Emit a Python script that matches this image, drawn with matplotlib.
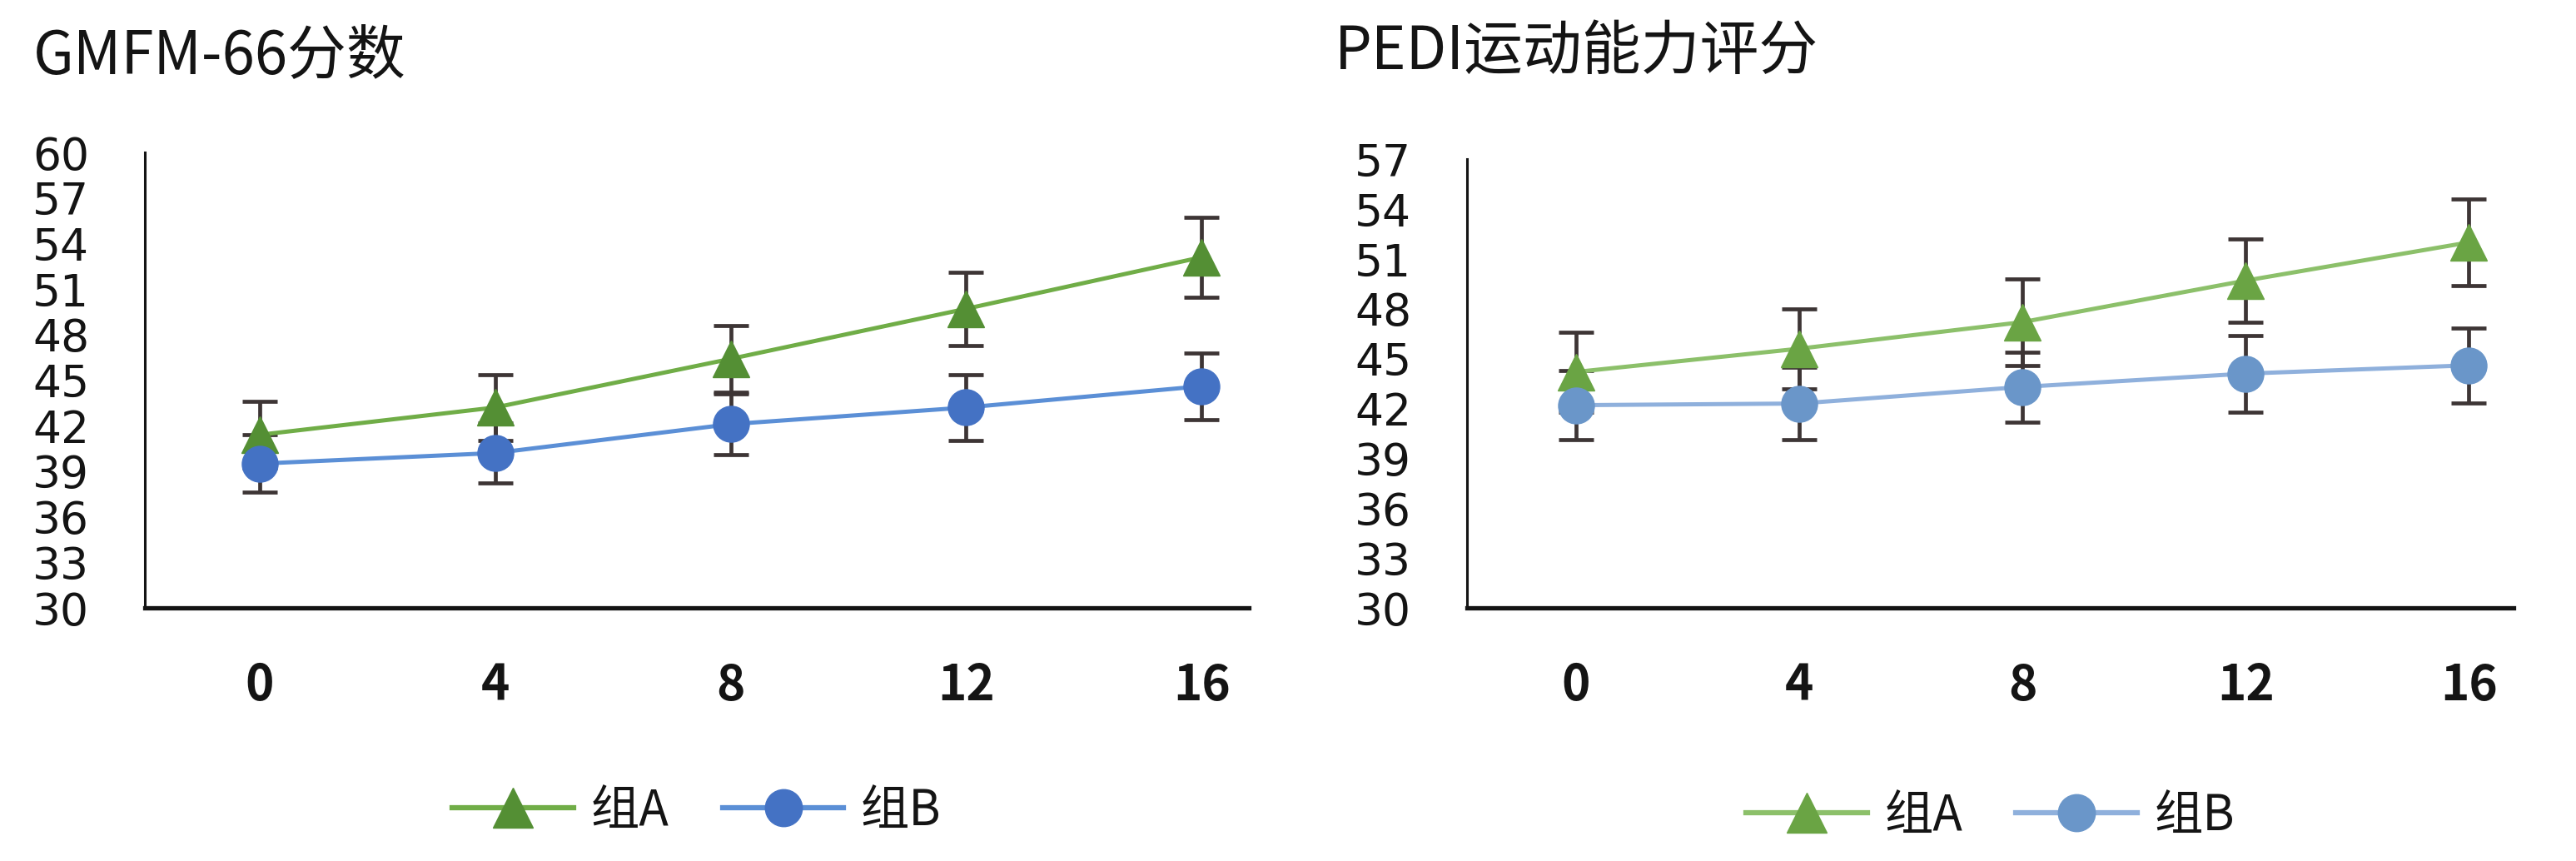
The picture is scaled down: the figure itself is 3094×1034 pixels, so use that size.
import matplotlib
matplotlib.use("Agg")
import matplotlib.pyplot as plt
from matplotlib.lines import Line2D

plt.rcParams['font.family'] = ['Noto Sans CJK SC', 'DejaVu Sans']

weeks = [0, 4, 8, 12, 16]
series_names = ["组A", "组B"]

gmfm_title = "GMFM-66分数"
gmfm_a = [41.4, 43.2, 46.4, 49.7, 53.1]
gmfm_a_err = [2.2, 2.15, 2.2, 2.4, 2.65]
gmfm_b = [39.5, 40.2, 42.1, 43.2, 44.6]
gmfm_b_err = [1.9, 2.0, 2.0, 2.15, 2.2]
gmfm_yticks = [30, 33, 36, 39, 42, 45, 48, 51, 54, 57, 60]

pedi_title = "PEDI运动能力评分"
pedi_a = [44.2, 45.6, 47.2, 49.7, 52.0]
pedi_a_err = [2.4, 2.4, 2.6, 2.5, 2.6]
pedi_b = [42.2, 42.3, 43.3, 44.1, 44.6]
pedi_b_err = [2.1, 2.2, 2.1, 2.3, 2.25]
pedi_yticks = [30, 33, 36, 39, 42, 45, 48, 51, 54, 57]

fig = plt.figure(figsize=(30.94, 10.34), dpi=100)

err_color = '#3d3535'
txt_color = '#141414'

def panel(rect, a, a_err, b, b_err, yticks, a_colors, b_colors, title, title_xy, leg_y):
    ax = fig.add_axes(rect)
    ax.errorbar(weeks, a, yerr=a_err, fmt='none', ecolor=err_color,
                elinewidth=3.4, capsize=15, capthick=3.4, zorder=2)
    ax.errorbar(weeks, b, yerr=b_err, fmt='none', ecolor=err_color,
                elinewidth=3.4, capsize=15, capthick=3.4, zorder=2)
    ax.plot(weeks, a, color=a_colors[0], lw=3.6, marker='^', ms=32,
            mfc=a_colors[1], mec=a_colors[1], zorder=3)
    ax.plot(weeks, b, color=b_colors[0], lw=3.6, marker='o', ms=31,
            mfc=b_colors[1], mec=b_colors[1], zorder=3)
    ax.set_xlim(-1.95, 16.8)
    ax.set_ylim(yticks[0], yticks[-1])
    ax.set_yticks(yticks)
    ax.set_yticklabels([str(t) for t in yticks], fontsize=38.5, color=txt_color,
                       family='DejaVu Sans')
    ax.set_xticks(weeks)
    ax.set_xticklabels([str(w) for w in weeks], fontsize=42, fontweight='bold', color=txt_color)
    ax.tick_params(axis='y', length=0, pad=48)
    ax.tick_params(axis='x', length=0, pad=46)
    for s in ['top', 'right']:
        ax.spines[s].set_visible(False)
    ax.spines['left'].set_linewidth(2.2)
    ax.spines['bottom'].set_linewidth(3.8)
    ax.spines['left'].set_color(txt_color)
    ax.spines['bottom'].set_color(txt_color)
    fig.text(title_xy[0], title_xy[1], title, fontsize=51, va='center', ha='left',
             color=txt_color, fontweight='medium')
    handles = [Line2D([], [], color=a_colors[0], lw=4.5, marker='^', ms=34, mfc=a_colors[1], mec=a_colors[1]),
               Line2D([], [], color=b_colors[0], lw=4.5, marker='o', ms=32, mfc=b_colors[1], mec=b_colors[1])]
    cx = rect[0] + rect[2] / 2
    leg = fig.legend(handles, series_names, loc='center', bbox_to_anchor=(cx, leg_y), ncol=2,
                     frameon=False, handlelength=2.5, handletextpad=0.35,
                     columnspacing=1.1, prop={'size': 42, 'weight': 'medium'})
    for t in leg.get_texts():
        t.set_color(txt_color)
    return ax

panel([0.0562, 0.294, 0.4286, 0.529], gmfm_a, gmfm_a_err, gmfm_b, gmfm_b_err, gmfm_yticks,
      ('#70ad47', '#548f34'), ('#5b8fd6', '#4472c4'), gmfm_title, (0.013, 0.934), 0.058)
panel([0.5695, 0.294, 0.4063, 0.521], pedi_a, pedi_a_err, pedi_b, pedi_b_err, pedi_yticks,
      ('#8cc06a', '#6aa444'), ('#8fb0dc', '#6a96c9'), pedi_title, (0.518, 0.940), 0.052)

fig.savefig('out.png', dpi=100)
